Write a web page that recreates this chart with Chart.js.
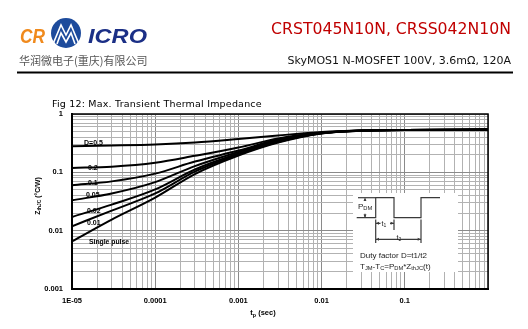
<!DOCTYPE html>
<html>
<head>
<meta charset="utf-8">
<script src="https://cdn.jsdelivr.net/npm/chart.js@4.4.1/dist/chart.umd.min.js"></script>
<style>
  body { margin: 0; background: #fff; }
  #page { position: relative; width: 528px; height: 329px; overflow: hidden; background: #fff; }
  #zthChart { position: absolute; left: 0; top: 0; width: 528px; height: 329px; }
  .t { position: absolute; white-space: nowrap; line-height: 1; }
  .t sub { font-size: 0.72em; vertical-align: -0.25em; line-height: 0; }
  .hdr { font-family: "DejaVu Sans", sans-serif; }
  .lbl { font-family: "Liberation Sans", Arial, sans-serif; font-weight: bold; font-size: 7px; color: #000; }
  .ins { font-family: "Liberation Sans", Arial, sans-serif; font-size: 8px; color: #222; }
  #overlay { position: absolute; left: 0; top: 0; }
</style>
</head>
<body>
<div id="page">
  <canvas id="zthChart" width="528" height="329"></canvas>

  <!-- company logo -->
  <svg id="overlay" width="528" height="329" viewBox="0 0 528 329">
    <text x="20" y="42.5" font-family="Liberation Sans" font-weight="bold" font-style="italic" font-size="20" fill="#f08a1d" textLength="25" lengthAdjust="spacingAndGlyphs">CR</text>
    <circle cx="66" cy="33" r="15" fill="#1d4b9c"/>
    <g fill="none" stroke="#fff" stroke-width="1.6">
      <polyline points="53,44 61,25 66,35 71,25 79,44"/>
      <polyline points="57,44 61,33 66,42 71,33 75,44"/>
    </g>
    <text x="88" y="42.5" font-family="Liberation Sans" font-weight="bold" font-style="italic" font-size="20" fill="#1b2f86" textLength="59" lengthAdjust="spacingAndGlyphs">ICRO</text>
    <line x1="17" y1="72.5" x2="513" y2="72.5" stroke="#000" stroke-width="2"/>

    <!-- duty cycle sketch -->
    <rect x="353" y="193" width="105" height="79" fill="#fff"/>
    <g fill="none" stroke="#3a3a3a" stroke-width="1.2">
      <path d="M356.7 217.7 H375.7 V197.7 H394 V217.7 H421 V197.7 H440"/>
      <path d="M358 197.7 H375.7"/>
      <path d="M365 198.5 V201 M365 213.8 V217"/>
      <path d="M375.7 219.5 V230 M394 219.5 V230 M375.7 223.3 H380.5 M390 223.3 H394"/>
      <path d="M375.7 230 V243 M421 219.5 V243 M375.7 239.3 H421"/>
    </g>
    <g fill="#3a3a3a">
      <path d="M365 198 l-1.5 3 h3 z M365 217.5 l-1.5 -3 h3 z"/>
      <path d="M376 223.3 l3 -1.5 v3 z M393.7 223.3 l-3 -1.5 v3 z"/>
      <path d="M376 239.3 l3 -1.5 v3 z M420.7 239.3 l-3 -1.5 v3 z"/>
    </g>
  </svg>

  <div class="t hdr" style="left:19px; top:54.5px; font-family:'Noto Sans CJK SC'; font-size:11px; color:#555;">华润微电子(重庆)有限公司</div>
  <div class="t hdr" style="right:17px; top:21px; font-size:15.7px; color:#c00000;">CRST045N10N, CRSS042N10N</div>
  <div class="t hdr" style="right:17px; top:55px; font-size:11px; color:#111;">SkyMOS1 N-MOSFET 100V, 3.6mΩ, 120A</div>
  <div class="t hdr" style="left:52px; top:99px; font-size:9.5px; letter-spacing:0.2px; color:#000;">Fig 12: Max. Transient Thermal Impedance</div>

  <!-- curve labels -->
  <div class="t lbl" style="left:84px; top:139.3px;">D=0.5</div>
  <div class="t lbl" style="left:88px; top:163.6px;">0.2</div>
  <div class="t lbl" style="left:88px; top:178.8px;">0.1</div>
  <div class="t lbl" style="left:86px; top:190.6px;">0.05</div>
  <div class="t lbl" style="left:87px; top:206.6px;">0.02</div>
  <div class="t lbl" style="left:87px; top:219.3px;">0.01</div>
  <div class="t lbl" style="left:89px; top:238.6px; font-size:6.8px;">Single pulse</div>

  <!-- axis titles -->
  <div class="t lbl" style="left:37.5px; top:196px; font-size:6.8px; transform:translate(-50%,-50%) rotate(-90deg);">Z<sub>thJC</sub> (°C/W)</div>
  <div class="t lbl" style="left:263px; top:312.7px; font-size:7.5px; transform:translate(-50%,-50%);">t<sub>p</sub> (sec)</div>

  <!-- sketch text -->
  <div class="t ins" style="left:358px; top:202.8px;">P<sub>DM</sub></div>
  <div class="t ins" style="left:381.5px; top:219.8px; font-size:7px;">t<sub>1</sub></div>
  <div class="t ins" style="left:396.5px; top:233.5px; font-size:7px;">t<sub>2</sub></div>
  <div class="t ins" style="left:360px; top:252px;">Duty factor D=t1/t2</div>
  <div class="t ins" style="left:360px; top:262.7px;">T<sub>JM</sub>-T<sub>C</sub>=P<sub>DM</sub>*Z<sub>thJC</sub>(t)</div>
</div>

<script>
// pulse width (s)
const pulseTimes = [1e-5, 3e-5, 1e-4, 3e-4, 1e-3, 3e-3, 1e-2, 3e-2, 1e-1, 1];

// Zth(j-c) in °C/W for each duty factor
const zthD05    = [0.280, 0.288, 0.300, 0.324, 0.372, 0.428, 0.491, 0.522, 0.532, 0.542];
const zthD02    = [0.119, 0.125, 0.146, 0.192, 0.266, 0.380, 0.475, 0.520, 0.531, 0.542];
const zthD01    = [0.060, 0.070, 0.095, 0.153, 0.236, 0.365, 0.472, 0.519, 0.531, 0.542];
const zthD005   = [0.0332, 0.0435, 0.0680, 0.128, 0.223, 0.351, 0.470, 0.518, 0.531, 0.542];
const zthD002   = [0.0172, 0.0280, 0.0510, 0.112, 0.210, 0.337, 0.468, 0.518, 0.531, 0.542];
const zthD001   = [0.0119, 0.0221, 0.0435, 0.103, 0.202, 0.331, 0.466, 0.517, 0.531, 0.542];
const zthSingle = [0.00656, 0.0155, 0.0369, 0.0934, 0.194, 0.324, 0.465, 0.517, 0.531, 0.542];

const xTickValues = [1e-5, 1e-4, 1e-3, 1e-2, 1e-1];
const xTickLabels = ['1E-05', '0.0001', '0.001', '0.01', '0.1'];
const yTickValues = [1, 0.1, 0.01, 0.001];
const yTickLabels = ['1', '0.1', '0.01', '0.001'];

// 1..9 x 10^n grid positions between min and max
function logTicks(min, max) {
  const out = [];
  for (let e = Math.round(Math.log10(min)); e < Math.round(Math.log10(max)); e++) {
    for (let m = 1; m < 10; m++) out.push({ value: m * Math.pow(10, e) });
  }
  out.push({ value: max });
  return out;
}

function isDecade(v) {
  const l = Math.log10(v);
  return Math.abs(l - Math.round(l)) < 1e-6;
}

function labelFor(v, values, labels) {
  const i = values.findIndex(t => Math.abs(Math.log10(t) - Math.log10(v)) < 1e-6);
  return i >= 0 ? labels[i] : '';
}

const gridColor = c => (c.tick && isDecade(c.tick.value)) ? '#8a8a8a' : '#b2b2b2';

const series = [zthD05, zthD02, zthD01, zthD005, zthD002, zthD001, zthSingle];

// top and right edge of the plot box
const frame = {
  id: 'frame',
  afterDraw(chart) {
    const { ctx, chartArea: a } = chart;
    ctx.save();
    ctx.strokeStyle = '#000';
    ctx.lineWidth = 1.5;
    ctx.beginPath();
    ctx.moveTo(a.left, a.top);
    ctx.lineTo(a.right, a.top);
    ctx.lineTo(a.right, a.bottom);
    ctx.stroke();
    ctx.restore();
  }
};

const tickFont = { family: 'Liberation Sans', size: 7.5, weight: 'bold' };

new Chart(document.getElementById('zthChart'), {
  type: 'line',
  data: {
    datasets: series.map(vals => ({
      data: pulseTimes.map((t, i) => ({ x: t, y: vals[i] })),
      borderColor: '#000',
      borderWidth: 2,
      pointRadius: 0,
      fill: false,
      cubicInterpolationMode: 'monotone'
    }))
  },
  options: {
    responsive: false,
    animation: false,
    layout: { padding: { left: 0, right: 40, top: 114, bottom: 0 } },
    plugins: { legend: { display: false }, tooltip: { enabled: false } },
    scales: {
      x: {
        type: 'logarithmic',
        min: 1e-5,
        max: 1,
        afterBuildTicks: s => { s.ticks = logTicks(1e-5, 1); },
        afterFit: s => { s.height = 40; },
        ticks: {
          autoSkip: false,
          maxRotation: 0,
          padding: 7,
          color: '#000',
          font: tickFont,
          callback: v => labelFor(v, xTickValues, xTickLabels)
        },
        grid: { color: gridColor, lineWidth: 1, drawTicks: false },
        border: { color: '#000', width: 2 }
      },
      y: {
        type: 'logarithmic',
        min: 0.001,
        max: 1,
        afterBuildTicks: s => { s.ticks = logTicks(0.001, 1); },
        afterFit: s => { s.width = 72; },
        ticks: {
          autoSkip: false,
          padding: 9,
          color: '#000',
          font: tickFont,
          callback: v => labelFor(v, yTickValues, yTickLabels)
        },
        grid: { color: gridColor, lineWidth: 1, drawTicks: false },
        border: { color: '#000', width: 2 }
      }
    }
  },
  plugins: [frame]
});
</script>
</body>
</html>
